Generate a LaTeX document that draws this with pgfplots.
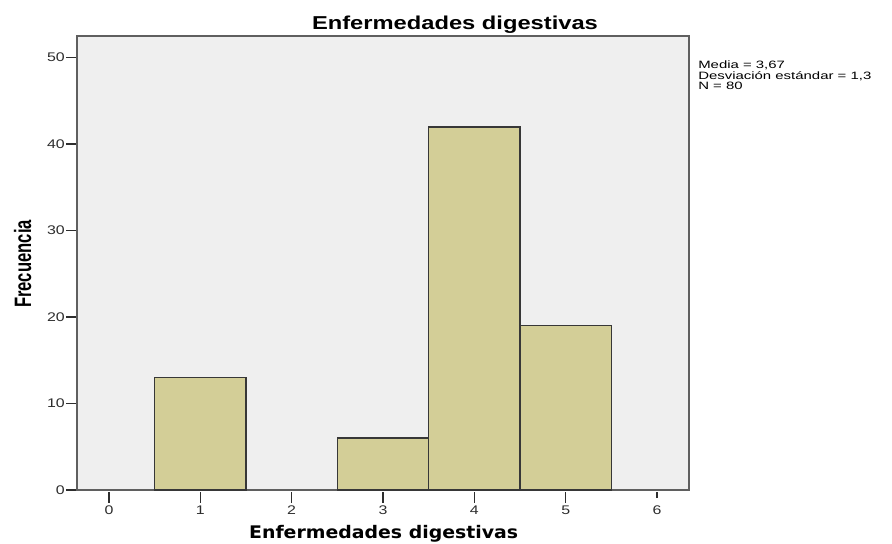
\documentclass[border=0pt]{standalone}
\usepackage{pgfplots}
\pgfplotsset{compat=1.18}
\usepackage{fontspec}
\setmainfont{Liberation Sans}
\newfontfamily\titlefont{DejaVu Sans}
\definecolor{bgc}{RGB}{239,239,239}
\definecolor{barc}{RGB}{211,206,151}
\definecolor{edgec}{RGB}{55,55,55}
\definecolor{framec}{RGB}{95,95,95}
\definecolor{tickc}{RGB}{45,45,45}
\begin{document}
\begin{tikzpicture}
\path[use as bounding box] (-57.75pt,-39.75pt) rectangle (611.25pt,367.5pt);
\begin{axis}[
  scale only axis,
  width=459pt, height=340.5pt,
  xmin=-0.35, xmax=6.35, ymin=0, ymax=52.5,
  xtick={0,1,2,3,4,5,6},
  ytick={0,10,20,30,40,50},
  axis background/.style={fill=bgc},
  axis line style={framec, line width=1pt},
  tick align=outside,
  xtick pos=bottom, ytick pos=left,
  major tick length=8pt,
  y tick style={tickc, line width=1pt},
  x tick style={tickc, line width=1pt, shorten <=3.5pt, yshift=-1.5pt},
  xticklabel style={yshift=-1.5pt, inner sep=2pt},
  yticklabel style={inner sep=1pt},
  ticklabel style={font=\fontsize{9.4}{10}\selectfont, text=tickc},
  xticklabel={\scalebox{1.27}[1]{\pgfmathprintnumber{\tick}}},
  yticklabel={\scalebox{1.27}[1]{\pgfmathprintnumber{\tick}}},
  /pgf/number format/assume math mode=true,
]
\addplot[ybar, bar width=1, fill=barc, draw=edgec, line width=1.1pt]
  coordinates {(1,13) (3,6) (4,42) (5,19)};
\end{axis}
\node[font=\bfseries\fontsize{14}{15}\selectfont, anchor=base, inner sep=0pt] at (283.5pt,345pt) {\scalebox{1.27}[1]{Enfermedades digestivas}};
\node[font=\titlefont\bfseries\fontsize{13}{14}\selectfont, anchor=base, inner sep=0pt] at (230pt,-36pt) {\scalebox{1.09}[1]{Enfermedades digestivas}};
\node[font=\bfseries\fontsize{14}{15}\selectfont, rotate=90, anchor=base, inner sep=0pt] at (-34.5pt,169.5pt) {\scalebox{0.89}[1.27]{Frecuencia}};
\node[font=\fontsize{8}{7.9}\selectfont, anchor=north west, align=left, inner sep=0pt] at (465.75pt,322pt) {\scalebox{1.4}[1]{Media = 3,67}\\\scalebox{1.4}[1]{Desviación estándar = 1,3}\\\scalebox{1.4}[1]{N = 80}};
\end{tikzpicture}
\end{document}
